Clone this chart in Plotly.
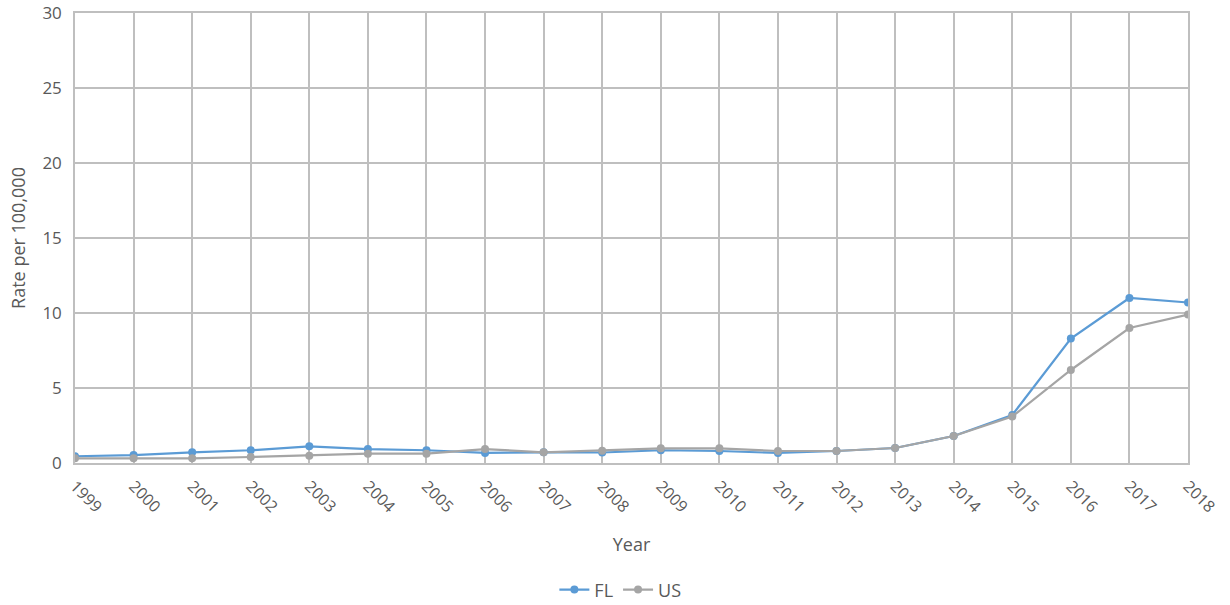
import plotly.graph_objects as go

years = [str(y) for y in range(1999, 2019)]
fl_rate = [0.45, 0.53, 0.71, 0.85, 1.11, 0.93, 0.85, 0.67, 0.71, 0.7,
           0.85, 0.8, 0.67, 0.8, 1.0, 1.8, 3.2, 8.3, 11.0, 10.7]
us_rate = [0.31, 0.31, 0.31, 0.4, 0.49, 0.62, 0.62, 0.93, 0.71, 0.82,
           0.98, 0.98, 0.8, 0.8, 1.0, 1.8, 3.1, 6.2, 9.0, 9.9]

FONT = "Open Sans, Liberation Sans, sans-serif"
TXT = "#595959"
GRID = "#bfbfbf"

fig = go.Figure()
fig.add_trace(go.Scatter(x=years, y=fl_rate, name="FL", mode="lines+markers",
                         line=dict(color="#5B9BD5", width=2.2),
                         marker=dict(size=8, color="#5B9BD5")))
fig.add_trace(go.Scatter(x=years, y=us_rate, name="US", mode="lines+markers",
                         line=dict(color="#A5A5A5", width=2.2),
                         marker=dict(size=8, color="#A5A5A5")))

fig.update_layout(
    width=1230, height=605,
    margin=dict(l=75, r=42, t=13, b=142, autoexpand=False),
    paper_bgcolor="white", plot_bgcolor="white",
    font=dict(family=FONT, color=TXT, size=16),
    showlegend=True,
    legend=dict(orientation="h", x=0.49, xanchor="center", y=-0.282, yanchor="middle",
                font=dict(size=18, color=TXT), itemwidth=30, tracegroupgap=0),
    xaxis=dict(
        type="category", range=[0, 19], automargin=False,
        tickangle=45, tickfont=dict(size=16, color=TXT),
        showgrid=True, gridcolor=GRID, gridwidth=1.5,
        showline=True, linecolor=GRID, linewidth=1.5, mirror=True,
        ticks="outside", ticklen=6, tickcolor="rgba(0,0,0,0)", zeroline=False,
        title=dict(text="Year", font=dict(size=18, color=TXT), standoff=22),
    ),
    yaxis=dict(
        range=[0, 30], dtick=5, tickfont=dict(size=17, color=TXT), automargin=False,
        showgrid=True, gridcolor=GRID, gridwidth=1.5,
        showline=True, linecolor=GRID, linewidth=1.5, mirror=True,
        ticks="outside", ticklen=8, tickcolor="white", zeroline=False,
        title=dict(text="Rate per 100,000", font=dict(size=18, color=TXT), standoff=12),
    ),
)

fig.write_html("out.html")
